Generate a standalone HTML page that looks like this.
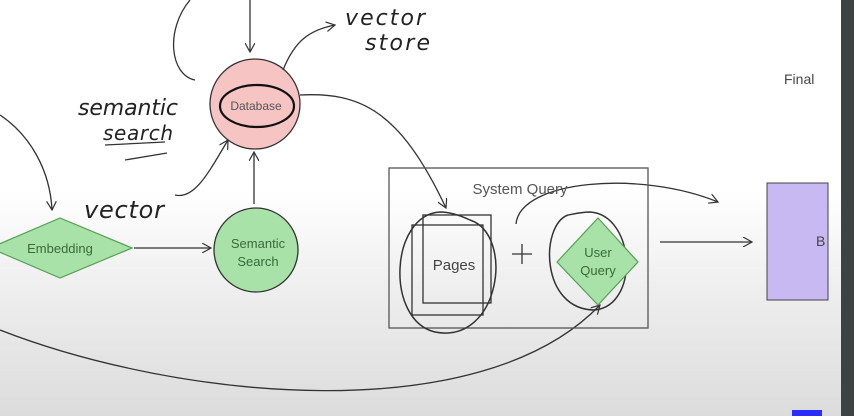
<!DOCTYPE html>
<html><head><style>
html,body{margin:0;padding:0;width:854px;height:416px;overflow:hidden}
body{background:linear-gradient(#fff 0,#fff 190px,#eeeeee 290px,#dcdcdc 416px)}
svg{position:absolute;left:0;top:0}
</style></head><body>
<svg width="854" height="416" viewBox="0 0 854 416" font-family="Liberation Sans, sans-serif">
<defs><marker id="a" markerWidth="10" markerHeight="10" refX="9" refY="5" orient="auto" markerUnits="userSpaceOnUse"><path d="M0,0 L9,5 L0,10" fill="none" stroke="#333" stroke-width="1.2"/></marker></defs>
<rect x="841" y="0" width="13" height="416" fill="#3d4342"/>
<text x="784" y="84" font-size="14" fill="#444">Final</text>
<circle cx="255" cy="104" r="45" fill="#f7c4c4" stroke="#333" stroke-width="1.3"/>
<ellipse cx="257" cy="106" rx="37" ry="21" fill="none" stroke="#111" stroke-width="2.2"/>
<text x="256" y="110" font-size="12" fill="#555" text-anchor="middle">Database</text>
<polygon points="-10,248 60,218 132,248 60,278" fill="#a8e2a8" stroke="#55a055" stroke-width="1.2"/>
<text x="60" y="253" font-size="13" fill="#3a6a3a" text-anchor="middle">Embedding</text>
<circle cx="256" cy="250" r="42" fill="#a8e2a8" stroke="#333" stroke-width="1.3"/>
<text x="258" y="248" font-size="13" fill="#3a6a3a" text-anchor="middle">Semantic</text>
<text x="258" y="266" font-size="13" fill="#3a6a3a" text-anchor="middle">Search</text>
<g fill="none" stroke="#333" stroke-width="1.3">
<line x1="134" y1="248" x2="211" y2="248" marker-end="url(#a)"/>
<line x1="254" y1="204" x2="254" y2="152" marker-end="url(#a)"/>
<line x1="250" y1="0" x2="250" y2="52" marker-end="url(#a)"/>
<path d="M300,95 C360,92 400,110 446,208" marker-end="url(#a)"/>
<line x1="660" y1="242" x2="752" y2="242" marker-end="url(#a)"/>
<path d="M0,330 C180,400 480,430 600,305" marker-end="url(#a)"/>
<path d="M0,115 C30,135 50,170 52,210" marker-end="url(#a)"/>
<path d="M190,0 C165,30 170,75 195,80"/>
<path d="M175,195 C195,200 210,170 228,140" marker-end="url(#a)"/>
<path d="M283,70 C295,40 310,30 335,25" marker-end="url(#a)"/>
<path d="M516,224 C520,180 640,170 718,202" marker-end="url(#a)"/>
<rect x="389" y="168" width="259" height="160" stroke="#555"/>
<rect x="412" y="225" width="71" height="90"/>
<rect x="423" y="215" width="68" height="88"/>
<path d="M440,212 C390,215 385,320 435,332 C500,345 515,235 470,220 C455,213 445,212 440,212" stroke-width="1.5"/>
<path d="M568,215 C540,225 540,310 595,310 C640,305 635,215 590,212 C580,212 570,215 568,215" stroke-width="1.5"/>
<line x1="512" y1="254" x2="532" y2="254"/><line x1="522" y1="244" x2="522" y2="264"/>
<line x1="105" y1="145" x2="165" y2="142"/><line x1="125" y1="160" x2="167" y2="153"/>
</g>
<polygon points="557,262 598,218 638,262 598,305" fill="#a8e2a8" stroke="#55a055" stroke-width="1.2"/>
<text x="598" y="257" font-size="13" fill="#3a6a3a" text-anchor="middle">User</text>
<text x="598" y="275" font-size="13" fill="#3a6a3a" text-anchor="middle">Query</text>
<text x="520" y="194" font-size="15" fill="#555" text-anchor="middle">System Query</text>
<text x="454" y="270" font-size="15" fill="#444" text-anchor="middle">Pages</text>
<rect x="767" y="183" width="61" height="117" fill="#c8b9f2" stroke="#444"/>
<text x="816" y="246" font-size="14" fill="#444">B</text>
<g font-family="DejaVu Sans, sans-serif" font-style="italic" fill="#222">
<text x="78" y="115" font-size="22" textLength="100">semantic</text>
<text x="103" y="140" font-size="20" textLength="70">search</text>
<text x="84" y="218" font-size="24" textLength="80">vector</text>
<text x="345" y="25" font-size="22" textLength="80">vector</text>
<text x="365" y="50" font-size="22" textLength="65">store</text>
</g>
<rect x="792" y="410" width="30" height="6" fill="#2b2bff"/>
</svg>
</body></html>
